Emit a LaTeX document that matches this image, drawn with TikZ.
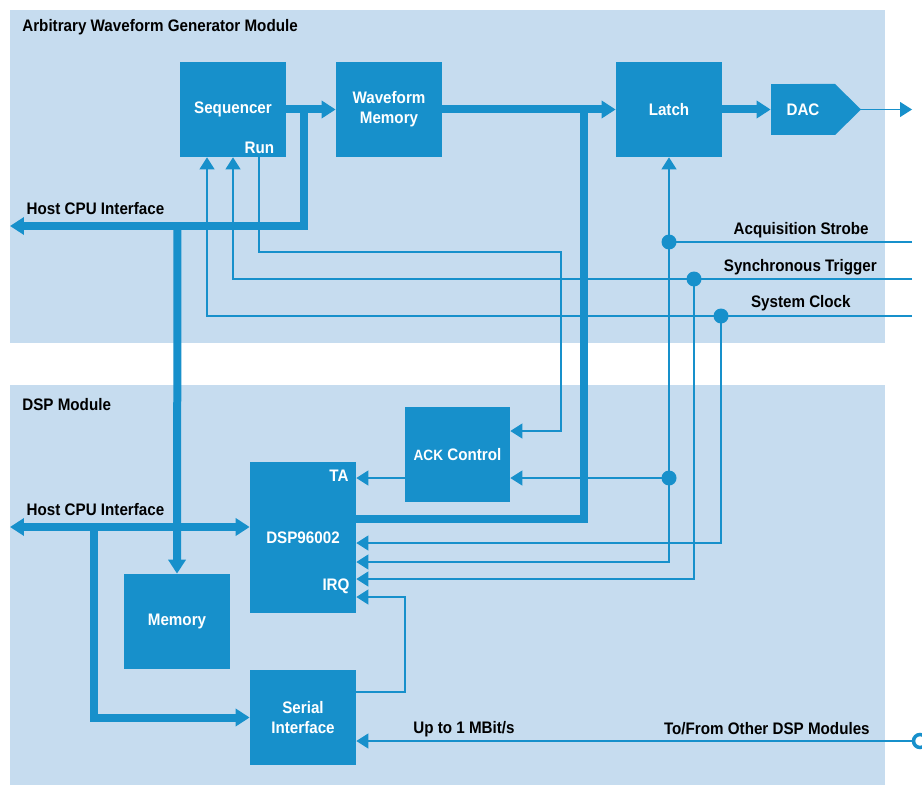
\documentclass[tikz,border=0pt]{standalone}
\usepackage{fontspec}
\setmainfont{Liberation Sans}[FakeStretch=0.91]
\usetikzlibrary{arrows.meta,positioning}
\definecolor{modbg}{HTML}{C6DCEF}
\definecolor{blk}{HTML}{1790CB}
\begin{document}
\begin{tikzpicture}[x=0.02cm,y=-0.02cm,font=\fontsize{9.5}{11.5}\selectfont\bfseries,
  box/.style={fill=blk,text=white,inner sep=0pt,minimum width=2.12cm,minimum height=1.9cm,align=center},
  wlbl/.style={text=white,inner sep=0pt},lbl/.style={inner sep=0pt},
  bus/.style={blk,line width=0.16cm,>={Triangle[length=0.28cm,width=0.34cm]}},
  sig/.style={blk,line width=0.6pt,>={Triangle[length=0.24cm,width=0.3cm]}},
  jdot/.style={circle,fill=blk,inner sep=0pt,minimum size=0.3cm}]
\fill[white] (0,0) rectangle (922,787);\useasboundingbox (0,0) rectangle (922,787);
\fill[modbg] (10,10) rectangle (885,343);\fill[modbg] (10,385) rectangle (885,785);
\node[lbl,anchor=west] (awgt) at (22,27) {Arbitrary Waveform Generator Module};
\node[lbl,anchor=west] (dspt) at (22,405) {DSP Module};
% blocks
\node[box] (seq) at (233,109.5) {Sequencer};\node[wlbl] (run) at (259.5,148) {Run};
\node[box] (wfm) at (389,109.5) {Waveform\\Memory};
\node[box] (latch) at (669,109.5) {Latch};
\fill[blk] (800,84) -- (835,84) -- (861,109.5) coordinate (dacout) -- (835,135) -- (800,135) -- cycle;
\node[box,minimum width=1.28cm,minimum height=1.02cm] (dac) at (803,109.5) {DAC};
\node[box,minimum width=2.1cm] (ack) at (457.5,454.5) {{\fontsize{8.5}{10}\selectfont ACK} Control};
\node[box,minimum height=3.02cm] (dsp) at (303,537.5) {DSP96002};
\node[wlbl] (ta) at (339,476) {TA};\node[wlbl] (irq) at (336,586) {IRQ};
\node[box] (mem) at (177,621.5) {Memory};
\node[box] (ser) at (303,717.5) {Serial\\Interface};
% buses
\coordinate (hosta) at (10,226);\coordinate (hostb) at (10,527);
\draw[bus,->] (seq.east) -- (wfm.west);\draw[bus,->] (wfm.east) -- (latch.west);\draw[bus,->] (latch.east) -- (dac.west);
\draw[bus,->] (304,109.5) |- (hosta);\draw[bus,->] (177.5,226) -- (mem.north);
\draw[bus] (583.5,109.5) |- (dsp.east |- 0,519);
\draw[bus,<->] (hostb) -- (dsp.west |- hostb);\draw[bus,->] (93.5,527) |- (ser.west);
\node[lbl] (hostal) at (95.5,209) {Host CPU Interface};\node[lbl] (hostbl) at (95.5,510) {Host CPU Interface};
% signals
\coordinate (aout) at (912,109.5);\coordinate (acq) at (912,242);\coordinate (sync) at (912,279);\coordinate (clk) at (912,316);
\draw[sig,->] (dacout) -- (aout);
\draw[sig,<->] (latch.south) -- (669,562) -- (dsp.east |- 0,562);\draw[sig] (acq) -- (669,242);
\draw[sig,->] (669,478) -- (ack.east |- 0,478);
\draw[sig,->] (sync) -| (seq.south -| 233,0);\draw[sig,->] (694,279) |- (dsp.east |- 0,579);
\draw[sig,->] (clk) -| (seq.south -| 207,0);\draw[sig,->] (721,316) |- (dsp.east |- 0,543);
\draw[sig,->] (seq.south -| 259,0) |- (561,252) |- (ack.east |- 0,431);
\draw[sig,->] (ack.west |- 0,478) -- (dsp.east |- 0,478);
\draw[sig,->] (ser.east |- 0,692) -| (405,597) -- (dsp.east |- 0,597);
\node[circle,draw=blk,line width=0.07cm,minimum size=0.26cm,inner sep=0pt] (port) at (920,741) {};
\draw[sig,->] (port) -- (ser.east |- port);
\node[jdot] (d1) at (669,242) {};\node[jdot] (d2) at (694,279) {};\node[jdot] (d3) at (721,316) {};\node[jdot] (d4) at (669,478) {};
\node[lbl,anchor=east] (acql) at (869,230) {Acquisition Strobe};
\node[lbl,anchor=east] (syncl) at (877,267) {Synchronous Trigger};
\node[lbl,anchor=east] (clkl) at (851,303) {System Clock};
\node[lbl,anchor=west] (ratel) at (413,729) {Up to 1 MBit/s};
\node[lbl,anchor=east] (otherl) at (870,729) {To/From Other DSP Modules};
\end{tikzpicture}
\end{document}
